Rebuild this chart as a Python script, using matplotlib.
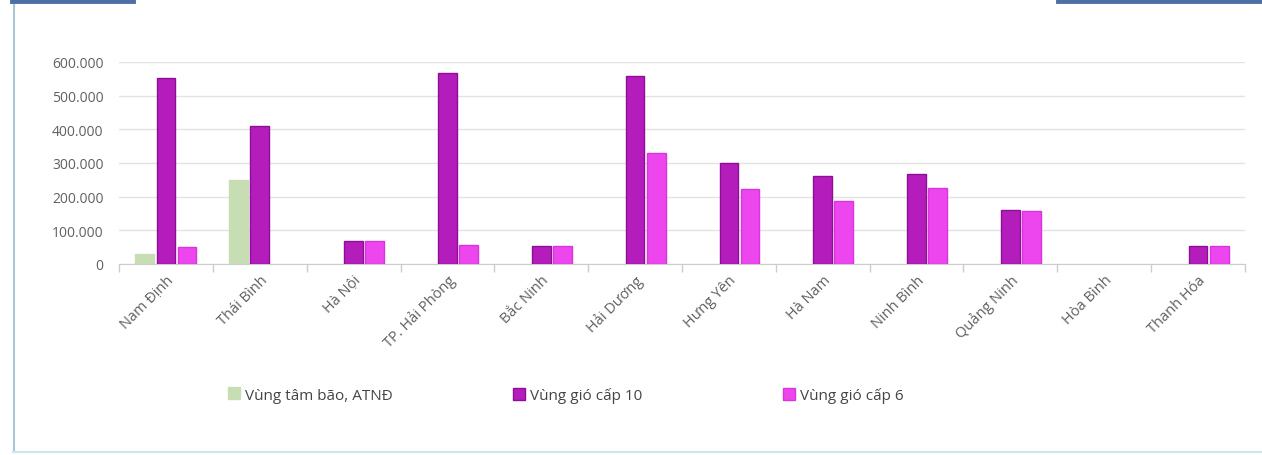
import numpy as np
import matplotlib.pyplot as plt
from matplotlib.lines import Line2D
from matplotlib.ticker import FuncFormatter

# --- data ---
provinces = ['Nam Định', 'Thái Bình', 'Hà Nội', 'TP. Hải Phòng', 'Bắc Ninh', 'Hải Dương',
             'Hưng Yên', 'Hà Nam', 'Ninh Bình', 'Quảng Ninh', 'Hòa Bình', 'Thanh Hóa']
vung_tam_bao = [30000, 250000, 0, 0, 0, 0, 0, 0, 0, 0, 0, 0]
vung_gio_cap10 = [552000, 410000, 68000, 567000, 52000, 558000, 300000, 262000, 267000, 160000, 0, 52000]
vung_gio_cap6 = [50000, 0, 68000, 55000, 52000, 330000, 222000, 187000, 225000, 157000, 0, 52000]
series_names = ['Vùng tâm bão, ATNĐ', 'Vùng gió cấp 10', 'Vùng gió cấp 6']

plt.rcParams['font.family'] = ['Open Sans', 'DejaVu Sans']

W, H = 1262, 456
fig = plt.figure(figsize=(W / 100, H / 100), dpi=100)
ax = fig.add_axes([119 / W, 1 - 265 / H, (1245 - 119) / W, (265 - 63) / H])

x = np.arange(len(provinces))
w = 0.2
step = 0.225
colors = ['#c7ddb3', '#b41cbc', '#ee46ee']
edges = ['#c7ddb3', '#8c1094', '#d736dc']
bars = []
for i, (vals, c, e) in enumerate(zip([vung_tam_bao, vung_gio_cap10, vung_gio_cap6], colors, edges)):
    lw = [1.0 if v else 0 for v in vals]
    b = ax.bar(x + (i - 1) * step, vals, width=w, color=c, edgecolor=e, linewidth=lw,
               label=series_names[i], zorder=3)
    bars.append(b)

ax.set_xlim(-0.5, len(provinces) - 0.5)
ax.set_ylim(0, 600000)
ax.set_yticks(np.arange(0, 600001, 100000))
ax.yaxis.set_major_formatter(FuncFormatter(lambda v, p: f'{int(v):,}'.replace(',', '.')))
ax.grid(axis='y', color='#e3e3e3', linewidth=1.0, zorder=0)
ax.tick_params(axis='y', length=0, pad=11, labelsize=10, labelcolor='#606060')

# category ticks at group boundaries, labels at centres
ax.set_xticks(np.arange(-0.5, len(provinces), 1.0))
ax.set_xticklabels([])
ax.tick_params(axis='x', which='major', length=6, color='#cccccc', width=1)
ax.set_xticks(x, minor=True)
ax.set_xticklabels(provinces, minor=True, rotation=45, ha='right', rotation_mode='anchor',
                   fontsize=10.5, color='#606060')
ax.tick_params(axis='x', which='minor', length=0, pad=6)

for s in ['top', 'right', 'left']:
    ax.spines[s].set_visible(False)
ax.spines['bottom'].set_color('#cccccc')

# legend: one item per legend, placed like the original
legend_x = [228, 513, 783]
for b, name, lx in zip(bars, series_names, legend_x):
    lg = fig.legend([b], [name], loc='center left', bbox_to_anchor=(lx / W, 1 - 396 / H),
                    frameon=False, fontsize=11, handlelength=0.8, handleheight=0.8,
                    handletextpad=0.3, borderpad=0, borderaxespad=0, labelcolor='#444444')

# page frame (left and bottom) and blue header bars
fig.add_artist(Line2D([13.5 / W, 13.5 / W], [1 - 452 / H, 1 - 4 / H], transform=fig.transFigure,
                      color='#a9c7d3', linewidth=1.5))
fig.add_artist(Line2D([13 / W, 1.0], [1 - 452.5 / H, 1 - 452.5 / H], transform=fig.transFigure,
                      color='#c6e8f0', linewidth=1.5))
fig.add_artist(Line2D([12 / W, 133 / W], [1 - 2 / H, 1 - 2 / H], transform=fig.transFigure,
                      color='#4d6fa6', linewidth=3.5))
fig.add_artist(Line2D([1058 / W, 1.0], [1 - 2 / H, 1 - 2 / H], transform=fig.transFigure,
                      color='#4d6fa6', linewidth=3.5))

fig.savefig('out.png', dpi=100)
